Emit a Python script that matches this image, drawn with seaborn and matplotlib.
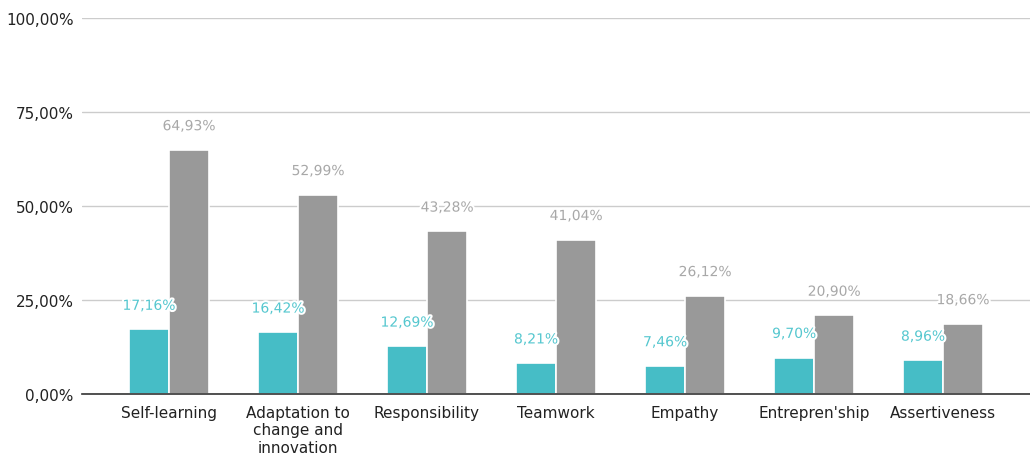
import matplotlib
matplotlib.use("Agg")
import matplotlib.pyplot as plt
import matplotlib.patheffects as pe
import seaborn as sns
import pandas as pd

categories = ["Self-learning", "Adaptation to\nchange and\ninnovation", "Responsibility",
              "Teamwork", "Empathy", "Entrepren'ship", "Assertiveness"]
series_a = [17.16, 16.42, 12.69, 8.21, 7.46, 9.70, 8.96]
series_b = [64.93, 52.99, 43.28, 41.04, 26.12, 20.90, 18.66]
series_names = ["A", "B"]
y_ticks = [0, 25, 50, 75, 100]

sns.set_theme(style="white")
plt.rcParams["font.family"] = ["DejaVu Sans"]

df = pd.DataFrame({
    "cat": categories * 2,
    "val": series_a + series_b,
    "series": [series_names[0]] * len(categories) + [series_names[1]] * len(categories),
})

colors = ["#46BDC6", "#999999"]
label_colors = ["#55C7CF", "#A8A8A8"]

fig = plt.figure(figsize=(10.30, 4.56), dpi=100)
ax = fig.add_axes([0.0796, 0.1338, 0.9204, 0.8245])
sns.barplot(data=df, x="cat", y="val", hue="series", palette=colors, width=0.62,
            ax=ax, legend=False, saturation=1, edgecolor="white", linewidth=1.2)

for cont, lc in zip(ax.containers, label_colors):
    labels = [f"{v:.2f}%".replace(".", ",") for v in cont.datavalues]
    txts = ax.bar_label(cont, labels=labels, padding=12, color=lc, fontsize=10)
    for t in txts:
        t.set_path_effects([pe.withStroke(linewidth=3, foreground="white")])

ax.set_ylim(0, 100)
ax.set_xlim(-0.674, 6.674)
ax.set_yticks(y_ticks)
ax.set_yticklabels([f"{v:.2f}%".replace(".", ",") for v in y_ticks], fontsize=11, color="#222222")
ax.tick_params(axis="x", labelsize=11, colors="#222222", length=0, pad=8)
ax.tick_params(axis="y", length=0, pad=6)
ax.yaxis.grid(True, color="#CCCCCC", linewidth=1)
ax.set_axisbelow(True)
for s in ["top", "right", "left"]:
    ax.spines[s].set_visible(False)
ax.spines["bottom"].set_color("#333333")
ax.spines["bottom"].set_linewidth(1.2)
ax.set_xlabel("")
ax.set_ylabel("")

fig.savefig("out.png", dpi=100)
